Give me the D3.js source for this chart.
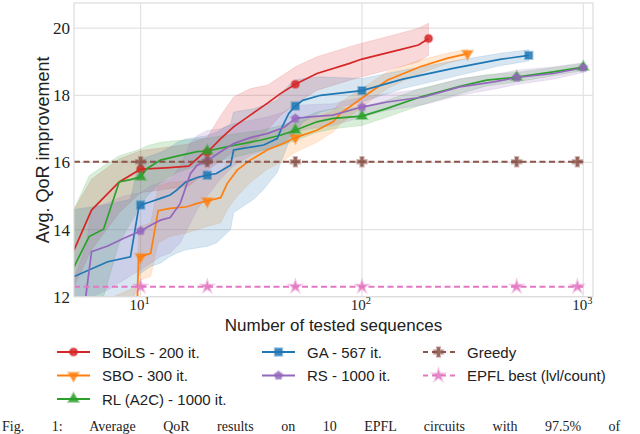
<!DOCTYPE html>
<html>
<head>
<meta charset="utf-8">
<script src="https://cdn.jsdelivr.net/npm/d3@7"></script>
<style>
  body { margin: 0; background: #fff; }
  svg { display: block; }
  .tick-lbl { font-family: "Liberation Serif", "DejaVu Serif", serif; fill: #222; }
  .sans { font-family: "Liberation Sans", "DejaVu Sans", sans-serif; fill: #222; }
</style>
</head>
<body>
<svg id="chart" width="640" height="434"></svg>
<script>
// ---- data ----
const boilsN    = [5, 6, 8, 10, 13, 16.5, 19, 20, 23, 26.3, 31.3, 37.3, 42.8, 50, 62.6, 88, 100, 149, 180, 200];
const boilsMean = [13.39, 14.58, 15.42, 15.80, 15.84, 15.89, 16.25, 16.30, 16.71, 17.06, 17.41, 17.76, 18.05, 18.33, 18.65, 18.95, 19.08, 19.36, 19.5, 19.69];
const boilsLo   = [12.3, 13.4, 14.5, 15.1, 15.2, 15.3, 15.6, 15.75, 16.05, 16.3, 16.55, 16.95, 17.4, 17.75, 18.15, 18.45, 18.55, 18.85, 19.0, 19.2];
const boilsHi   = [14.6, 15.5, 16.1, 16.35, 16.45, 16.55, 16.7, 16.75, 17.4, 17.95, 18.2, 18.3, 18.55, 18.85, 19.15, 19.45, 19.55, 19.85, 20.0, 20.15];
const boilsMarks = [10, 20, 50, 200];

const sboN    = [5, 9.6, 9.8, 10, 11.1, 12, 13.6, 16.2, 18, 20, 23, 24.6, 27.3, 31.3, 37.3, 44.3, 50, 62.6, 74, 80, 100, 130, 183, 242, 300];
const sboMean = [10.5, 11.3, 13.19, 13.19, 13.29, 14.56, 14.63, 14.68, 14.78, 14.85, 14.95, 15.37, 15.77, 16.07, 16.37, 16.57, 16.74, 16.96, 17.21, 17.46, 17.92, 18.45, 18.85, 19.1, 19.24];
const sboLo   = [9.5, 10.3, 12.3, 12.5, 12.6, 13.6, 13.8, 13.9, 14.0, 14.1, 14.2, 14.6, 15.0, 15.4, 15.8, 16.05, 16.3, 16.6, 16.9, 17.15, 17.65, 18.2, 18.65, 18.95, 19.1];
const sboHi   = [11.5, 12.3, 14.0, 14.1, 14.2, 15.3, 15.4, 15.45, 15.55, 15.6, 15.7, 16.0, 16.4, 16.7, 16.9, 17.05, 17.2, 17.35, 17.55, 17.8, 18.2, 18.7, 19.05, 19.25, 19.38];
const sboMarks = [10, 20, 50, 300];

const rlN    = [5, 5.85, 6.8, 8.0, 9.0, 10, 10.7, 12.3, 14.6, 18, 20, 26.3, 34.7, 42.8, 50, 62.6, 74, 100, 130, 183, 277, 366, 500, 730, 1000];
const rlMean = [12.89, 13.79, 14.01, 15.42, 15.49, 15.57, 15.82, 16.07, 16.19, 16.32, 16.34, 16.51, 16.66, 16.81, 16.96, 17.21, 17.31, 17.38, 17.61, 17.95, 18.27, 18.45, 18.54, 18.70, 18.84];
const rlLo   = [11.2, 11.8, 12.0, 13.6, 14.2, 14.7, 15.0, 15.4, 15.7, 15.9, 15.95, 16.15, 16.35, 16.5, 16.65, 16.9, 17.0, 17.1, 17.35, 17.7, 18.05, 18.28, 18.4, 18.58, 18.74];
const rlHi   = [14.6, 15.6, 15.9, 16.2, 16.3, 16.4, 16.5, 16.6, 16.65, 16.7, 16.72, 16.85, 16.95, 17.1, 17.25, 17.5, 17.6, 17.65, 17.85, 18.2, 18.48, 18.62, 18.68, 18.82, 18.95];
const rlMarks = [10, 20, 50, 100, 500, 1000];

const gaN    = [5, 7.1, 9, 9.8, 10, 11.1, 12.3, 13.6, 14.6, 16, 18, 20, 22, 25.5, 26.3, 32.4, 36, 41.4, 43.6, 46.7, 50, 54, 65, 100, 153, 258, 420, 567];
const gaMean = [12.6, 13.04, 13.19, 14.65, 14.73, 14.83, 14.93, 15.03, 15.18, 15.42, 15.55, 15.62, 15.67, 15.92, 16.37, 16.47, 16.52, 16.71, 17.06, 17.46, 17.68, 17.85, 18.0, 18.14, 18.48, 18.8, 19.07, 19.19];
const gaLo   = [10.8, 11.2, 11.5, 12.6, 12.7, 12.9, 13.0, 13.2, 13.3, 13.4, 13.45, 13.5, 13.6, 14.0, 14.5, 14.9, 15.2, 15.7, 16.1, 16.6, 16.9, 17.2, 17.5, 17.8, 18.2, 18.55, 18.88, 19.02];
const gaHi   = [14.6, 14.75, 14.9, 16.0, 16.1, 16.2, 16.3, 16.45, 16.6, 16.7, 16.75, 16.8, 16.9, 17.15, 17.5, 17.6, 17.7, 17.85, 18.1, 18.3, 18.45, 18.5, 18.55, 18.5, 18.75, 19.02, 19.25, 19.36];
const gaMarks = [10, 20, 50, 100, 567];

const rsN    = [5, 5.65, 6.0, 7.1, 8.4, 10, 11.1, 12.3, 13.6, 15.1, 16.8, 18, 20, 22.9, 26.3, 31.3, 37.3, 44.3, 50, 58, 74, 100, 130, 190, 277, 394, 500, 730, 1000];
const rsMean = [11.0, 12.0, 13.34, 13.51, 13.74, 13.96, 14.13, 14.28, 14.36, 14.78, 15.67, 15.92, 16.05, 16.31, 16.56, 16.74, 16.86, 17.04, 17.31, 17.36, 17.41, 17.65, 17.80, 17.95, 18.25, 18.4, 18.53, 18.65, 18.82];
const rsLo   = [9.5, 10.5, 12.0, 12.2, 12.5, 12.8, 13.0, 13.2, 13.3, 13.6, 14.2, 14.6, 15.0, 15.5, 15.9, 16.2, 16.4, 16.6, 16.9, 17.0, 17.1, 17.35, 17.55, 17.72, 18.0, 18.18, 18.32, 18.48, 18.68];
const rsHi   = [12.5, 13.5, 14.6, 14.8, 15.0, 15.1, 15.3, 15.4, 15.5, 15.9, 16.6, 16.8, 16.95, 17.0, 17.15, 17.25, 17.35, 17.5, 17.7, 17.72, 17.75, 17.95, 18.05, 18.2, 18.5, 18.62, 18.75, 18.85, 18.97];
const rsMarks = [10, 20, 50, 100, 500, 1000];

const greedyN = [5, 1000];
const greedyVal = [16.02, 16.02];
const epflN = [5, 1000];
const epflVal = [12.30, 12.30];
const refMarks = [10, 20, 50, 100, 500, 940];

const yTicks = [12, 14, 16, 18, 20];
const xTicks = [10, 100, 1000];
const xTickExp = ["1", "2", "3"];

// ---- layout ----
const svg = d3.select("#chart");
const L = 74, R = 593, T = 3, B = 296.7;
const x = d3.scaleLog().domain([5, 1106]).range([L, R]);
const y = d3.scaleLinear().domain([12, 20.75]).range([B, T]);

// custom pentagon marker for RS
const pentagon = {
    draw(ctx, size) {
        const r = Math.sqrt(size / 2.38);
        for (let i = 0; i < 5; i++) {
            const a = -Math.PI / 2 + i * 2 * Math.PI / 5;
            if (i === 0) ctx.moveTo(r * Math.cos(a), r * Math.sin(a));
            else ctx.lineTo(r * Math.cos(a), r * Math.sin(a));
        }
        ctx.closePath();
    }
};

const series = [
    { name: "BOiLS - 200 it.", color: "#d62728", n: boilsN, mean: boilsMean, lo: boilsLo, hi: boilsHi, marks: boilsMarks, sym: d3.symbolCircle, size: 44, rot: 0 },
    { name: "SBO - 300 it.", color: "#ff7f0e", n: sboN, mean: sboMean, lo: sboLo, hi: sboHi, marks: sboMarks, sym: d3.symbolTriangle, size: 42, rot: 180 },
    { name: "RL (A2C) - 1000 it.", color: "#2ca02c", n: rlN, mean: rlMean, lo: rlLo, hi: rlHi, marks: rlMarks, sym: d3.symbolTriangle, size: 42, rot: 0 },
    { name: "GA - 567 it.", color: "#1f77b4", n: gaN, mean: gaMean, lo: gaLo, hi: gaHi, marks: gaMarks, sym: d3.symbolSquare, size: 52, rot: 0 },
    { name: "RS - 1000 it.", color: "#9467bd", n: rsN, mean: rsMean, lo: rsLo, hi: rsHi, marks: rsMarks, sym: pentagon, size: 40, rot: 0 }
];
const refs = [
    { name: "Greedy", color: "#8c564b", n: greedyN, mean: greedyVal, marks: refMarks, sym: d3.symbolCross, size: 48, rot: 0 },
    { name: "EPFL best (lvl/count)", color: "#e377c2", n: epflN, mean: epflVal, marks: refMarks, sym: d3.symbolStar, size: 38, rot: 0 }
];

function interp(s, n) {
    // linear in log-x between key points
    const i = d3.bisectLeft(s.n, n);
    if (i <= 0) return s.mean[0];
    if (i >= s.n.length) return s.mean[s.n.length - 1];
    if (s.n[i] === n) return s.mean[i];
    const t = (Math.log(n) - Math.log(s.n[i - 1])) / (Math.log(s.n[i]) - Math.log(s.n[i - 1]));
    return s.mean[i - 1] + t * (s.mean[i] - s.mean[i - 1]);
}

svg.append("defs").append("clipPath").attr("id", "plotclip")
    .append("rect").attr("x", L).attr("y", T).attr("width", R - L).attr("height", B - T);

// grid
const grid = svg.append("g");
grid.selectAll(".gy").data(yTicks).join("line")
    .attr("x1", L).attr("x2", R).attr("y1", d => y(d)).attr("y2", d => y(d))
    .attr("stroke", "#e3e3e3").attr("stroke-width", 1.2);
grid.selectAll(".gx").data(xTicks).join("line")
    .attr("y1", T).attr("y2", B).attr("x1", d => x(d)).attr("x2", d => x(d))
    .attr("stroke", "#e3e3e3").attr("stroke-width", 1.2);

const plot = svg.append("g").attr("clip-path", "url(#plotclip)");

// bands
const area = d3.area()
    .x(d => x(d.n)).y0(d => y(d.lo)).y1(d => y(d.hi));
series.forEach(s => {
    const pts = s.n.map((n, i) => ({ n, lo: s.lo[i], hi: s.hi[i] }));
    plot.append("path").datum(pts)
        .attr("d", area)
        .attr("fill", s.color).attr("fill-opacity", 0.18)
        .attr("stroke", s.color).attr("stroke-opacity", 0.12).attr("stroke-width", 1);
});

const line = d3.line().x(d => x(d.n)).y(d => y(d.v));

// lines
series.concat(refs).forEach(s => {
    const pts = s.n.map((n, i) => ({ n, v: s.mean[i] }));
    const p = plot.append("path").datum(pts)
        .attr("d", line)
        .attr("fill", "none")
        .attr("stroke", s.color)
        .attr("stroke-width", 1.7);
    if (refs.includes(s)) p.attr("stroke-dasharray", "6,3.5").attr("stroke-width", 2);
});

// markers
function drawMarker(g, s, px, py) {
    g.append("path")
        .attr("d", d3.symbol().type(s.sym).size(s.size)())
        .attr("transform", `translate(${px},${py}) rotate(${s.rot})`)
        .attr("fill", s.color).attr("fill-opacity", 0.85)
        .attr("stroke", s.color).attr("stroke-opacity", 0.4).attr("stroke-width", 2.2);
}
const mg = svg.append("g");
series.concat(refs).forEach(s => {
    s.marks.forEach(m => drawMarker(mg, s, x(m), y(interp(s, m))));
});

// frame
svg.append("rect").attr("x", L).attr("y", T).attr("width", R - L).attr("height", B - T)
    .attr("fill", "none").attr("stroke", "#dcdcdc").attr("stroke-width", 1.2);

// tick labels
svg.selectAll(".yl").data(yTicks).join("text")
    .attr("class", "tick-lbl")
    .attr("x", L - 4).attr("y", d => y(d) + 6)
    .attr("text-anchor", "end").attr("font-size", 17)
    .text(d => d);
const xl = svg.selectAll(".xl").data(xTicks).join("text")
    .attr("class", "tick-lbl")
    .attr("x", d => x(d) - 1).attr("y", B + 13)
    .attr("text-anchor", "middle").attr("font-size", 15);
xl.append("tspan").text("10");
xl.append("tspan").attr("dy", -6).attr("font-size", 10.5).text((d, i) => xTickExp[i]);

// axis titles
svg.append("text").attr("class", "sans")
    .attr("x", (L + R) / 2).attr("y", 331)
    .attr("text-anchor", "middle").attr("font-size", 17)
    .text("Number of tested sequences");
svg.append("text").attr("class", "sans")
    .attr("transform", `translate(49,${(T + B) / 2}) rotate(-90)`)
    .attr("text-anchor", "middle").attr("font-size", 18)
    .text("Avg. QoR improvement");

// legend
const legCols = [57, 262, 422];
const legRows = [352, 375.5, 399];
const legItems = series.concat(refs);
const legPos = [[0, 0], [0, 1], [0, 2], [1, 0], [1, 1], [2, 0], [2, 1]];
const leg = svg.append("g");
legItems.forEach((s, i) => {
    const lx = legCols[legPos[i][0]], ly = legRows[legPos[i][1]];
    const ln = leg.append("line")
        .attr("x1", lx).attr("x2", lx + 33).attr("y1", ly).attr("y2", ly)
        .attr("stroke", s.color).attr("stroke-width", 1.8);
    if (refs.includes(s)) ln.attr("stroke-dasharray", "5,4").attr("x1", lx + 1);
    drawMarker(leg, s, lx + 16.5, ly);
    leg.append("text").attr("class", "sans")
        .attr("x", lx + 45).attr("y", ly + 5.5)
        .attr("font-size", 15)
        .text(s.name);
});

// caption (at the bottom edge of the window)
svg.append("text").attr("class", "tick-lbl")
    .attr("x", 2).attr("y", 431)
    .attr("font-size", 14)
    .attr("word-spacing", 24)
    .text("Fig. 1: Average QoR results on 10 EPFL circuits with 97.5% of");
</script>
</body>
</html>
